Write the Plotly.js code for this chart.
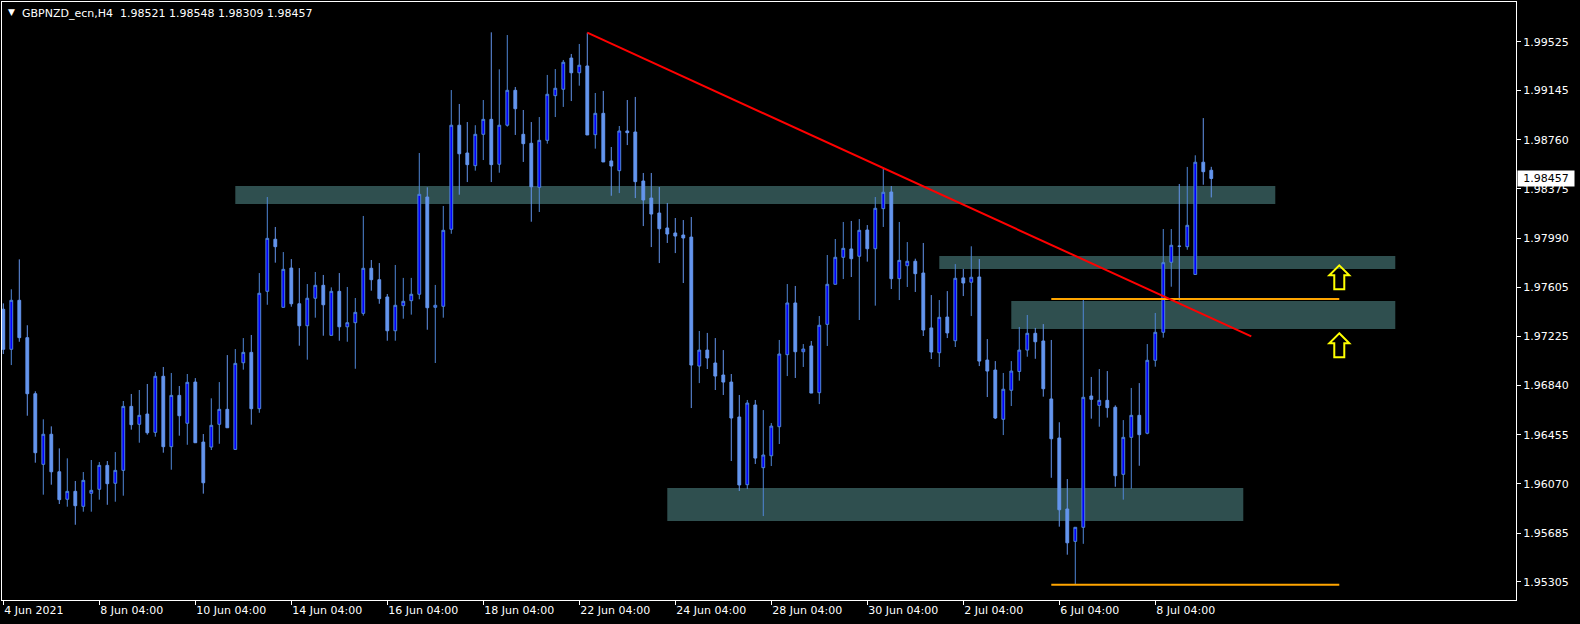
<!DOCTYPE html>
<html><head><meta charset="utf-8">
<script src="https://cdn.plot.ly/plotly-3.0.1.min.js"></script>
<style>html,body{margin:0;padding:0;background:#000;overflow:hidden}#chart{width:1580px;height:624px}</style>
</head><body><div id="chart"></div>
<script>
const symbolTitle = 'GBPNZD_ecn,H4';

const openP = [1.97435,1.97122,1.97505,1.97213,1.96775,1.96223,1.96458,1.96165,1.95950,1.96012,
1.95895,1.95997,1.96028,1.96215,1.96075,1.96176,1.96676,1.96536,1.96616,1.96473,
1.96911,1.96361,1.96762,1.96544,1.96866,1.96397,1.96358,1.96536,1.96653,1.96340,
1.97017,1.97098,1.96658,1.97575,1.97982,1.97450,1.97757,1.97478,1.97306,1.97521,
1.97622,1.97231,1.97575,1.97298,1.97330,1.97403,1.97755,1.97666,1.97531,1.97267,
1.97463,1.97502,1.97552,1.98312,1.97450,1.97458,1.98060,1.98873,1.98656,1.98557,
1.98802,1.98919,1.98568,1.98873,1.99146,1.98802,1.98732,1.98388,1.98755,1.99104,
1.99154,1.99398,1.99283,1.99336,1.98799,1.98966,1.98594,1.98518,1.98828,1.98820,
1.98437,1.98304,1.98187,1.98070,1.98031,1.98015,1.97999,1.96991,1.97116,1.97015,
1.96921,1.96866,1.96593,1.96064,1.96687,1.96197,1.96290,1.96517,1.97080,1.97484,
1.97103,1.97148,1.96783,1.97317,1.97630,1.97841,1.97906,1.97849,1.98054,1.97908,
1.98221,1.98351,1.97674,1.97775,1.97810,1.97718,1.97289,1.97095,1.97374,1.97189,
1.97680,1.97646,1.97687,1.97038,1.96960,1.96575,1.96802,1.96949,1.97116,1.97247,
1.97187,1.96734,1.96429,1.95874,1.95621,1.95731,1.96757,1.96684,1.96723,1.96669,
1.96145,1.96434,1.96606,1.96466,1.97036,1.97255,1.97802,1.97928,1.97924,1.97707,
1.98584,1.98521];

const highP = [1.97481,1.97591,1.97825,1.97310,1.96794,1.96575,1.96520,1.96348,1.96270,1.96093,
1.96163,1.96257,1.96241,1.96249,1.96319,1.96718,1.96773,1.96804,1.96851,1.96945,
1.96984,1.96937,1.96835,1.96929,1.96897,1.96460,1.96739,1.96866,1.97077,1.97124,
1.97210,1.97234,1.97718,1.98312,1.98078,1.97882,1.97827,1.97757,1.97632,1.97726,
1.97703,1.97606,1.97718,1.97609,1.97523,1.98164,1.97820,1.97796,1.97554,1.97781,
1.97680,1.97680,1.98656,1.98388,1.97625,1.98242,1.99148,1.99039,1.98898,1.98873,
1.99070,1.99599,1.99310,1.99578,1.99172,1.98992,1.98898,1.98937,1.99266,1.99312,
1.99383,1.99430,1.99508,1.99596,1.99125,1.99141,1.98703,1.98867,1.99070,1.99094,
1.98500,1.98500,1.98390,1.98265,1.98148,1.98132,1.98156,1.97265,1.97250,1.97210,
1.97116,1.96929,1.96765,1.96726,1.96726,1.96647,1.96546,1.97195,1.97632,1.97617,
1.97163,1.97187,1.97382,1.97859,1.97984,1.98117,1.98125,1.98140,1.98093,1.98312,
1.98536,1.98398,1.98117,1.97960,1.97830,1.97953,1.97546,1.97507,1.97577,1.97788,
1.97750,1.97927,1.97827,1.97202,1.97030,1.96937,1.97030,1.97296,1.97390,1.97289,
1.97319,1.97195,1.96552,1.96108,1.95731,1.97515,1.96906,1.96968,1.96952,1.96684,
1.96569,1.96820,1.96858,1.97163,1.97406,1.98062,1.98062,1.98414,1.98547,1.98638,
1.98929,1.98548];

const lowP = [1.97085,1.96999,1.97181,1.96603,1.96236,1.95986,1.96064,1.95913,1.95892,1.95751,
1.95853,1.95853,1.95947,1.95907,1.95931,1.95978,1.96494,1.96392,1.96455,1.96439,
1.96314,1.96181,1.96447,1.96376,1.96390,1.95994,1.96335,1.96384,1.96507,1.96335,
1.96963,1.96533,1.96626,1.97470,1.97799,1.97450,1.97455,1.97150,1.97041,1.97369,
1.97228,1.97231,1.97189,1.97181,1.96970,1.97385,1.97580,1.97478,1.97189,1.97189,
1.97361,1.97393,1.97513,1.97275,1.97015,1.97369,1.98025,1.98330,1.98429,1.98518,
1.98601,1.98429,1.98502,1.98862,1.98797,1.98586,1.98119,1.98195,1.98729,1.98937,
1.99016,1.99062,1.99182,1.98797,1.98690,1.98586,1.98322,1.98343,1.98718,1.98304,
1.98085,1.97921,1.97796,1.97953,1.97874,1.97640,1.96663,1.96858,1.96968,1.96804,
1.96765,1.96249,1.96015,1.96030,1.96226,1.95819,1.96210,1.96382,1.96913,1.96898,
1.96984,1.96780,1.96694,1.97148,1.97630,1.97671,1.97687,1.97351,1.97807,1.97463,
1.98078,1.97593,1.97507,1.97609,1.97570,1.97226,1.97046,1.96984,1.97210,1.97140,
1.97538,1.97382,1.96991,1.96749,1.96577,1.96452,1.96679,1.96877,1.97064,1.97048,
1.96752,1.96118,1.95736,1.95517,1.95282,1.95602,1.96580,1.96517,1.96588,1.96048,
1.95947,1.96033,1.96212,1.96458,1.96986,1.97213,1.97611,1.97502,1.97900,1.97707,
1.98408,1.98309];

const closeP = [1.97122,1.97505,1.97213,1.96775,1.96314,1.96458,1.96165,1.95947,1.96012,1.95900,
1.96098,1.96020,1.96215,1.96072,1.96176,1.96676,1.96533,1.96606,1.96470,1.96911,
1.96361,1.96762,1.96603,1.96864,1.96392,1.96079,1.96528,1.96653,1.96509,1.97012,
1.97098,1.96658,1.97560,1.97989,1.97924,1.97747,1.97478,1.97306,1.97521,1.97622,
1.97470,1.97575,1.97298,1.97330,1.97411,1.97755,1.97666,1.97518,1.97267,1.97466,
1.97497,1.97552,1.98333,1.97447,1.97466,1.98052,1.98873,1.98650,1.98565,1.98802,
1.98919,1.98565,1.98873,1.99146,1.99002,1.98729,1.98392,1.98755,1.99115,1.99162,
1.99365,1.99283,1.99342,1.98797,1.98966,1.98586,1.98554,1.98828,1.98815,1.98432,
1.98289,1.98179,1.98064,1.98023,1.98007,1.97992,1.96999,1.97116,1.97054,1.96913,
1.96866,1.96585,1.96062,1.96702,1.96272,1.96296,1.96522,1.97085,1.97484,1.97103,
1.97124,1.96780,1.97310,1.97630,1.97841,1.97911,1.97830,1.98052,1.97908,1.98224,
1.98349,1.97674,1.97817,1.97810,1.97713,1.97273,1.97101,1.97372,1.97250,1.97677,
1.97640,1.97685,1.97030,1.96952,1.96585,1.96810,1.96952,1.97116,1.97247,1.97181,
1.96814,1.96423,1.95868,1.95610,1.95731,1.96747,1.96731,1.96723,1.96666,1.96134,
1.96434,1.96606,1.96455,1.97036,1.97255,1.97799,1.97935,1.97927,1.98091,1.98584,
1.98510,1.98457];

// time-axis labels, one every 12 H4 bars (2 trading days)
const timeLabels = ['4 Jun 2021','8 Jun 04:00','10 Jun 04:00','14 Jun 04:00','16 Jun 04:00',
  '18 Jun 04:00','22 Jun 04:00','24 Jun 04:00','28 Jun 04:00','30 Jun 04:00',
  '2 Jul 04:00','6 Jul 04:00','8 Jul 04:00'];
const barsPerLabel = 12;

const priceTicks = [1.99525,1.99145,1.98760,1.98375,1.97990,1.97605,1.97225,1.96840,1.96455,1.96070,1.95685,1.95305];

// drawn objects (bar index / price)
const zoneStartBar = [29, 117, 126, 83];
const zoneEndBar   = [159, 174, 174, 155];
const zoneTop      = [1.98398, 1.97851, 1.97499, 1.96038];
const zoneBottom   = [1.98257, 1.97749, 1.97281, 1.95780];

const levelStartBar = [131, 131];
const levelEndBar   = [167, 167];
const levelPrice    = [1.97515, 1.95282];

const trendBars   = [73, 156];
const trendPrices = [1.99596, 1.97223];

const arrowBar   = [167, 167];
const arrowPrice = [1.97786, 1.97255];

const barIndex = openP.map((_, i) => i);
const lastBar = openP.length - 1;

const FONT = 'DejaVu Sans, Verdana, sans-serif';
const WHITE = '#FFFFFF';

const trace = {
  type: 'candlestick',
  x: barIndex, open: openP, high: highP, low: lowP, close: closeP,
  increasing: {line: {color: '#4F86D6', width: 1}, fillcolor: '#0000FF'},
  decreasing: {line: {color: '#6495ED', width: 1}, fillcolor: '#6495ED'},
  whiskerwidth: 0,
  hoverinfo: 'skip',
  showlegend: false
};

const shapes = [];
for (let i = 0; i < zoneTop.length; i++) {
  shapes.push({type: 'rect', xref: 'x', yref: 'y', layer: 'below',
    x0: zoneStartBar[i], x1: zoneEndBar[i], y0: zoneBottom[i], y1: zoneTop[i],
    fillcolor: '#2F4F4F', line: {width: 0}});
}
for (let i = 0; i < levelPrice.length; i++) {
  shapes.push({type: 'line', xref: 'x', yref: 'y', layer: 'above',
    x0: levelStartBar[i], x1: levelEndBar[i], y0: levelPrice[i], y1: levelPrice[i],
    line: {color: '#FFA500', width: 2}});
}
shapes.push({type: 'line', xref: 'x', yref: 'y', layer: 'above',
  x0: trendBars[0], x1: trendBars[1], y0: trendPrices[0], y1: trendPrices[1],
  line: {color: '#FF0000', width: 2}});
for (let i = 0; i < arrowPrice.length; i++) {
  shapes.push({type: 'path', xref: 'x', yref: 'y', layer: 'above',
    xsizemode: 'pixel', ysizemode: 'pixel', xanchor: arrowBar[i], yanchor: arrowPrice[i],
    path: 'M 0 -1 L 10 -11 L 5 -11 L 5 -25 L -5 -25 L -5 -11 L -10 -11 Z',
    fillcolor: 'rgba(0,0,0,0)', line: {color: '#FFFF00', width: 2}});
}

const headerValues = [openP[lastBar], highP[lastBar], lowP[lastBar], closeP[lastBar]]
  .map(v => v.toFixed(5)).join(' ');

const annotations = [
  {xref: 'paper', yref: 'paper', x: 0, y: 1, xanchor: 'left', yanchor: 'top',
   xshift: 4, yshift: -3, showarrow: false, text: '\u25BC',
   font: {family: FONT, size: 9, color: WHITE}},
  {xref: 'paper', yref: 'paper', x: 0, y: 1, xanchor: 'left', yanchor: 'top',
   xshift: 18, yshift: -3, showarrow: false,
   text: symbolTitle + '\u00a0\u00a0' + headerValues,
   font: {family: FONT, size: 11, color: WHITE}},
  {xref: 'paper', yref: 'y', x: 1, y: closeP[lastBar], xanchor: 'left', yanchor: 'middle',
   xshift: 1, showarrow: false, text: closeP[lastBar].toFixed(5),
   bgcolor: WHITE, borderpad: 1, width: 54, align: 'center',
   font: {family: FONT, size: 11, color: '#000000'}}
];

const layout = {
  width: 1580, height: 624,
  paper_bgcolor: '#000000', plot_bgcolor: '#000000',
  margin: {l: 2, r: 64, t: 2, b: 24, pad: 0},
  showlegend: false,
  hovermode: false,
  boxgap: 0.5,
  xaxis: {
    range: [-0.1625, 189.09], autorange: false,
    rangeslider: {visible: false},
    showgrid: false, zeroline: false,
    showline: true, mirror: true, linecolor: WHITE, linewidth: 1,
    ticks: 'outside', ticklen: 4, tickwidth: 1, tickcolor: WHITE,
    tickmode: 'array',
    tickvals: timeLabels.map((_, i) => i * barsPerLabel),
    ticktext: timeLabels,
    ticklabelposition: 'outside right',
    tickfont: {family: FONT, size: 11, color: WHITE}
  },
  yaxis: {
    side: 'right',
    range: [1.95163, 1.99836], autorange: false,
    showgrid: false, zeroline: false,
    showline: true, mirror: true, linecolor: WHITE, linewidth: 1,
    ticks: 'outside', ticklen: 4, tickwidth: 1, tickcolor: WHITE,
    tickmode: 'array',
    tickvals: priceTicks,
    ticktext: priceTicks.map(v => v.toFixed(5)),
    tickfont: {family: FONT, size: 11, color: WHITE}
  },
  shapes: shapes,
  annotations: annotations
};

Plotly.newPlot('chart', [trace], layout, {displayModeBar: false, staticPlot: true});
</script>
</body></html>
